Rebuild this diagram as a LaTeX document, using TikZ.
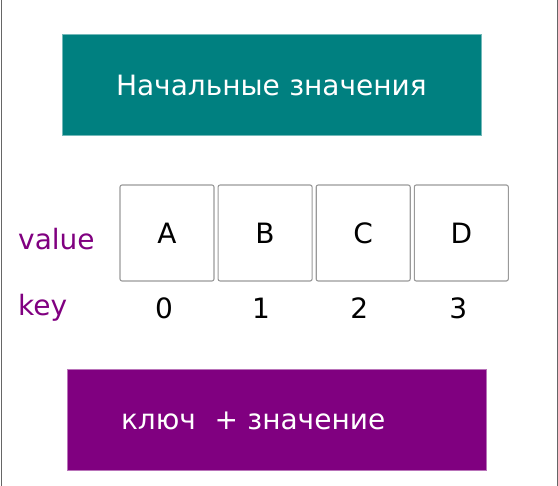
\documentclass[tikz,border=0pt]{standalone}
\usepackage{fontspec}
\setmainfont{DejaVu Sans}
\usepackage{tikz}
\usetikzlibrary{positioning}
\definecolor{colTitulo}{HTML}{008080}
\definecolor{colClave}{HTML}{800080}
\definecolor{colCelda}{HTML}{999999}
\definecolor{colBorde}{HTML}{666666}

\tikzset{
  banner/.style={rectangle, text=white, text width=311pt, align=left,
    inner xsep=54pt, minimum height=101pt, line width=1pt},
  cell/.style={rectangle, draw=colCelda, rounded corners=2pt, line width=1.1pt,
    minimum width=94pt, minimum height=96pt, inner sep=0pt},
  idx/.style={inner sep=0pt, text=black},
  tag/.style={inner sep=0pt, text=colClave, anchor=base west}
}

\begin{document}
\begin{tikzpicture}[x=1pt, y=-1pt, font=\fontsize{28}{32}\selectfont]
    \useasboundingbox (0,0) rectangle (558,486);

    % bordes laterales
    \draw[colBorde, line width=1pt] (1,0) -- (1,486);
    \draw[colBorde, line width=1pt] (557,0) -- (557,486);

    % cabecera
    \node[banner, fill=colTitulo, draw=colTitulo!55!white] (titulo) at (271.5,85.5)
        {\mbox{Начальные значения}};

    % celdas
    \node[cell] (cA) at (167,233) {A};
    \node[cell, right=3pt of cA] (cB) {B};
    \node[cell, right=3pt of cB] (cC) {C};
    \node[cell, right=3pt of cC] (cD) {D};

    % indices
    \node[idx, below=16pt of cA, xshift=-3pt] (k0) {0};
    \node[idx, below=16pt of cB, xshift=-4pt] (k1) {1};
    \node[idx, below=16pt of cC, xshift=-4pt] (k2) {2};
    \node[idx, below=16pt of cD, xshift=-3pt] (k3) {3};

    % etiquetas
    \node[tag] (lvalue) at (18,250) {value};
    \node[tag] (lkey) at (18,316) {key};

    % pie
    \node[banner, fill=colClave, draw=colClave!55!white] (pie) at (276.5,420.5)
        {\mbox{ключ\ \ + значение}};
\end{tikzpicture}
\end{document}
